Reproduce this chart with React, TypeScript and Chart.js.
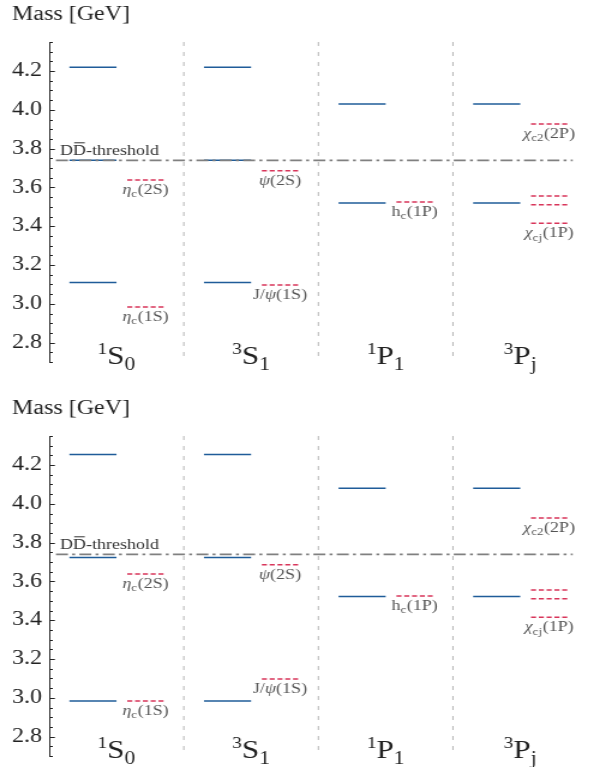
import React, { useEffect, useRef } from 'react';
import { Chart, registerables } from 'chart.js';

Chart.register(...registerables);

// ---------------- data ----------------
const catSup = ['1', '3', '1', '3'];
const catBase = ['S', 'S', 'P', 'P'];
const catSub = ['0', '1', '1', 'j'];

const yMin = 2.7;
const yMax = 4.35;
const majorStep = 0.2;
const minorStep = 0.05;

const thresholdMass = 3.74;
const thresholdText = 'DD-threshold';
const axisTitle = 'Mass [GeV]';

// model masses, top panel
const topModel1S0 = [3.11, 3.74, 4.22];
const topModel3S1 = [3.11, 3.74, 4.22];
const topModel1P1 = [3.52, 4.03];
const topModel3Pj = [3.52, 4.03];

// model masses, bottom panel
const botModel1S0 = [2.983, 3.724, 4.255];
const botModel3S1 = [2.983, 3.724, 4.255];
const botModel1P1 = [3.523, 4.08];
const botModel3Pj = [3.523, 4.08];

// experimental masses
const exp1S0 = [2.984, 3.638];
const exp3S1 = [3.097, 3.686];
const exp1P1 = [3.525];
const exp3Pj = [3.415, 3.511, 3.556, 3.927];

// labels of experimental states: [text, style] with style 'i' italic, 's' subscript, '' normal
type Part = [string, string];
const expLabels1S0: (Part[] | null)[] = [
  [['η', 'i'], ['c', 's'], ['(1S)', '']],
  [['η', 'i'], ['c', 's'], ['(2S)', '']],
];
const expLabels3S1: (Part[] | null)[] = [
  [['J/', ''], ['ψ', 'i'], ['(1S)', '']],
  [['ψ', 'i'], ['(2S)', '']],
];
const expLabels1P1: (Part[] | null)[] = [[['h', ''], ['c', 's'], ['(1P)', '']]];
const expLabels3Pj: (Part[] | null)[] = [
  [['χ', 'i'], ['cj', 's'], ['(1P)', '']],
  null,
  null,
  [['χ', 'i'], ['c2', 's'], ['(2P)', '']],
];

const topModel = [topModel1S0, topModel3S1, topModel1P1, topModel3Pj];
const botModel = [botModel1S0, botModel3S1, botModel1P1, botModel3Pj];
const expMasses = [exp1S0, exp3S1, exp1P1, exp3Pj];
const expLabels = [expLabels1S0, expLabels3S1, expLabels1P1, expLabels3Pj];
const separators = [0.5, 1.5, 2.5];

// ---------------- style ----------------
const SERIF = '"Liberation Serif", "Times New Roman", serif';
const BLUE = '#1f5c99';
const RED = '#d8355a';
const GREY = '#808080';
const TEXT = '#222222';
const STRETCH = 1.2;
const CW = 494;
const CH = 380;
const PLOT_TOP = 42;
const PLOT_BOTTOM = 366;

const modelX = [-0.35, 0.0];
const expX = [0.08, 0.35];
const thrX = [-0.45, 3.39];

function segments(masses: number[][], x0: number, x1: number, style: any) {
  const out: any[] = [];
  masses.forEach((arr, i) => {
    arr.forEach((m) => {
      out.push({
        data: [
          { x: i + x0, y: m },
          { x: i + x1, y: m },
        ],
        pointRadius: 0,
        fill: false,
        ...style,
      });
    });
  });
  return out;
}

function drawParts(ctx: CanvasRenderingContext2D, parts: Part[], cx: number, base: number, size: number) {
  const fontFor = (s: string) =>
    s === 's' ? `${size * 0.72}px ${SERIF}` : s === 'i' ? `italic ${size}px ${SERIF}` : `${size}px ${SERIF}`;
  let total = 0;
  const widths = parts.map(([t, s]) => {
    ctx.font = fontFor(s);
    const w = ctx.measureText(t).width + (s === 's' ? 0.5 : 0);
    total += w;
    return w;
  });
  let x = cx - total / 2;
  parts.forEach(([t, s], k) => {
    ctx.font = fontFor(s);
    ctx.fillText(t, x, s === 's' ? base + size * 0.22 : base);
    x += widths[k];
  });
}

const overlayPlugin = {
  id: 'overlay',
  afterDatasetsDraw(chart: any) {
    const { ctx, chartArea, scales } = chart;
    const xs = scales.x;
    const ys = scales.y;
    ctx.save();
    // inward ticks
    ctx.strokeStyle = TEXT;
    ctx.lineWidth = 1;
    const ax = Math.round(chartArea.left) + 0.5;
    const n0 = Math.ceil(yMin / minorStep - 1e-9);
    const n1 = Math.floor(yMax / minorStep + 1e-9);
    for (let k = n0; k <= n1; k++) {
      const v = k * minorStep;
      const major = Math.abs(v / majorStep - Math.round(v / majorStep)) < 1e-6;
      const py = Math.round(ys.getPixelForValue(v)) + 0.5;
      ctx.beginPath();
      ctx.moveTo(ax, py);
      ctx.lineTo(ax + (major ? 4.2 : 2.5), py);
      ctx.stroke();
    }
    ctx.textAlign = 'left';
    ctx.textBaseline = 'alphabetic';
    ctx.fillStyle = '#555555';
    // experimental labels
    expMasses.forEach((arr, i) => {
      arr.forEach((m, j) => {
        const lab = expLabels[i][j];
        if (!lab) return;
        const cx = xs.getPixelForValue(i + (expX[0] + expX[1]) / 2);
        const base = ys.getPixelForValue(m) + 14;
        drawParts(ctx, lab, cx, base, 15);
      });
    });
    // threshold label
    ctx.fillStyle = '#333333';
    ctx.font = `15px ${SERIF}`;
    const tx = xs.getPixelForValue(-0.42);
    const tb = ys.getPixelForValue(thresholdMass) - 5.5;
    ctx.fillText(thresholdText, tx, tb);
    const wD = ctx.measureText('D').width;
    ctx.strokeStyle = '#333333';
    ctx.lineWidth = 1;
    ctx.beginPath();
    ctx.moveTo(tx + wD + 1, tb - 12);
    ctx.lineTo(tx + 2 * wD - 1, tb - 12);
    ctx.stroke();
    // category labels
    ctx.fillStyle = TEXT;
    catBase.forEach((b, i) => {
      const cx = xs.getPixelForValue(i);
      const base = chartArea.bottom + 2;
      ctx.font = `16px ${SERIF}`;
      const w1 = ctx.measureText(catSup[i]).width;
      ctx.font = `26px ${SERIF}`;
      const w2 = ctx.measureText(b).width;
      ctx.font = `18px ${SERIF}`;
      const w3 = ctx.measureText(catSub[i]).width;
      let x = cx - (w1 + w2 + w3) / 2;
      ctx.font = `16px ${SERIF}`;
      ctx.fillText(catSup[i], x, base - 10);
      x += w1;
      ctx.font = `26px ${SERIF}`;
      ctx.fillText(b, x, base);
      x += w2;
      ctx.font = `18px ${SERIF}`;
      ctx.fillText(catSub[i], x, base + 5.5);
    });
    ctx.restore();
  },
};

function buildConfig(model: number[][]): any {
  const datasets = [
    {
      data: [
        { x: thrX[0], y: thresholdMass },
        { x: thrX[1], y: thresholdMass },
      ],
      borderColor: GREY,
      borderWidth: 1.8,
      borderDash: [10, 3.5, 2.5, 3.5],
      pointRadius: 0,
      fill: false,
    },
    ...segments(expMasses, expX[0], expX[1], { borderColor: RED, borderWidth: 1.5, borderDash: [4.2, 2.3] }),
    ...segments(model, modelX[0], modelX[1], { borderColor: BLUE, borderWidth: 1.5 }),
    ...separators.map((s) => ({
      data: [
        { x: s, y: yMax },
        { x: s, y: yMin },
      ],
      borderColor: '#b5b5b5',
      borderWidth: 1,
      borderDash: [4, 6],
      pointRadius: 0,
      fill: false,
    })),
  ];
  return {
    type: 'line',
    data: { datasets },
    plugins: [overlayPlugin],
    options: {
      responsive: false,
      animation: false,
      devicePixelRatio: 1,
      layout: { padding: { left: 10, right: 4.4, top: 0, bottom: CH - PLOT_BOTTOM } },
      plugins: {
        legend: { display: false },
        tooltip: { enabled: false },
        title: {
          display: true,
          text: axisTitle,
          align: 'start',
          color: TEXT,
          font: { family: SERIF, size: 20, weight: 'normal', lineHeight: 1.2 },
          padding: { top: 2.5, bottom: PLOT_TOP - 24 - 2.5 },
        },
      },
      scales: {
        x: { type: 'linear', min: -0.5, max: 3.5, display: false },
        y: {
          type: 'linear',
          min: yMin,
          max: yMax,
          afterFit: (s: any) => {
            s.width = 31;
          },
          grid: { display: false, drawTicks: false },
          border: { display: true, color: TEXT, width: 1 },
          ticks: {
            stepSize: majorStep,
            includeBounds: false,
            padding: 6,
            color: TEXT,
            font: { family: SERIF, size: 20 },
            callback: (v: number) => Number(v).toFixed(1),
          },
        },
      },
    },
  };
}

function Panel({ model, top }: { model: number[][]; top: number }) {
  const ref = useRef<HTMLCanvasElement>(null);
  useEffect(() => {
    const chart = new Chart(ref.current as HTMLCanvasElement, buildConfig(model));
    return () => chart.destroy();
  }, []);
  return (
    <canvas
      ref={ref}
      width={CW}
      height={CH}
      style={{
        position: 'absolute',
        left: 0,
        top,
        width: CW,
        height: CH,
        transform: `scaleX(${STRETCH})`,
        transformOrigin: '0 0',
      }}
    />
  );
}

export default function App() {
  return (
    <div
      style={{
        position: 'fixed',
        left: 0,
        top: 0,
        width: 593,
        height: 767,
        overflow: 'hidden',
        background: '#ffffff',
      }}
    >
      <Panel model={topModel} top={0} />
      <Panel model={botModel} top={394} />
    </div>
  );
}
